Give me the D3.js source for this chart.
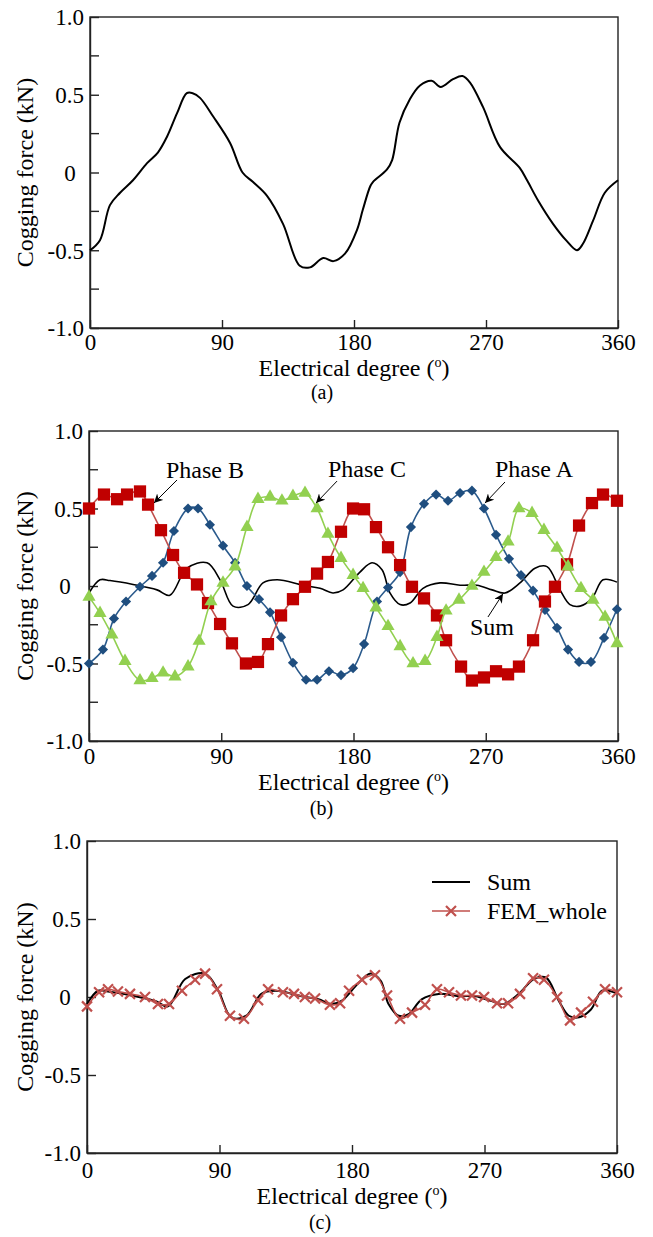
<!DOCTYPE html>
<html>
<head>
<meta charset="utf-8">
<script src="https://cdn.jsdelivr.net/npm/d3@7"></script>
<style>
body { margin: 0; background: #fff; }
svg text { font-family: "Liberation Serif", "Times New Roman", serif; fill: #000; }
</style>
</head>
<body>
<svg id="chart" width="653" height="1237"></svg>
<script>
//Axis ticks and labels shared by the three panels.
const xTicks = [0, 90, 180, 270, 360];
const xTickLabels = ["0", "90", "180", "270", "360"];
const yTicks = [-1, -0.5, 0, 0.5, 1];
const yTickLabels = ["-1.0", "-0.5", "0", "0.5", "1.0"];
const yMinorTicks = [-0.75, -0.25, 0.25, 0.75];

//(a) cogging force of one module.
const singleDeg = [0, 6.8, 13.6, 20.5, 29.3, 38.9, 46.4, 52.5, 59.3, 66, 70, 75, 84, 95.5, 104, 111, 120.7, 131.6, 143, 150, 159, 166, 174, 182, 186, 191, 193, 202.5, 206, 211, 218, 225, 233, 239, 247.5, 254, 259, 268, 279.5, 293, 298, 305.5, 315.7, 325, 332, 336, 343, 351, 360];
const singleVal = [-0.50, -0.435, -0.21, -0.13, -0.05, 0.06, 0.13, 0.23, 0.38, 0.51, 0.51, 0.48, 0.36, 0.19, 0.0, -0.06, -0.15, -0.33, -0.60, -0.61, -0.55, -0.57, -0.52, -0.37, -0.24, -0.09, -0.06, 0.02, 0.08, 0.32, 0.47, 0.56, 0.59, 0.55, 0.60, 0.62, 0.58, 0.42, 0.165, 0.03, -0.05, -0.18, -0.33, -0.44, -0.50, -0.46, -0.31, -0.13, -0.05];

//(b) the three phases and their sum.
const phaseADeg = [0, 9.5, 17, 25.2, 34.7, 42.9, 50.4, 57.8, 67.4, 74.2, 82.3, 91.2, 99.4, 107.5, 115.7, 123.2, 130.7, 138.8, 147.7, 155.2, 163.3, 171.5, 179.7, 187.2, 196, 203.5, 211.7, 219.1, 228, 236.2, 244.3, 252.5, 260.6, 268.8, 277, 285.8, 294, 302.2, 310.3, 318.5, 326, 333.5, 341.6, 350.5, 359.3];
const phaseAVal = [-0.50, -0.41, -0.21, -0.10, -0.005, 0.065, 0.15, 0.355, 0.50, 0.50, 0.395, 0.26, 0.15, 0.0, -0.085, -0.17, -0.33, -0.495, -0.605, -0.605, -0.55, -0.575, -0.53, -0.375, -0.10, -0.01, 0.09, 0.38, 0.53, 0.59, 0.55, 0.60, 0.615, 0.50, 0.33, 0.175, 0.07, -0.03, -0.155, -0.27, -0.41, -0.49, -0.49, -0.335, -0.15];

const phaseBDeg = [0, 10.2, 19.1, 25.9, 34.7, 40.2, 49, 57.2, 64.7, 73.5, 81, 89.2, 97.3, 106.8, 115, 121.8, 130.7, 138.8, 147, 155.2, 162.6, 171.5, 179.7, 187.2, 195.3, 203.5, 211.7, 219.8, 228, 236.8, 243, 253.2, 260.6, 268.8, 277, 285.2, 292.6, 302.2, 310.3, 317.1, 325.3, 333.5, 342.3, 349.8, 359.3];
const phaseBVal = [0.50, 0.59, 0.56, 0.59, 0.61, 0.525, 0.36, 0.20, 0.085, 0.01, -0.11, -0.245, -0.37, -0.50, -0.49, -0.375, -0.19, -0.085, -0.005, 0.08, 0.155, 0.35, 0.50, 0.495, 0.38, 0.25, 0.135, -0.005, -0.08, -0.19, -0.35, -0.52, -0.61, -0.59, -0.55, -0.57, -0.52, -0.35, -0.10, -0.005, 0.14, 0.39, 0.535, 0.59, 0.55];

const phaseCDeg = [0, 7.5, 15.6, 24.5, 34.7, 42.9, 50.4, 58.5, 67.4, 74.9, 83, 91.2, 99.4, 107.5, 115, 123.2, 131.3, 138.8, 147, 155.2, 162.6, 171.5, 179.7, 186.5, 195.3, 203.5, 211.7, 220.5, 228.7, 236.8, 243, 251.8, 260.6, 268.8, 277, 285.2, 292.6, 301.5, 309.6, 318.5, 326, 334.8, 343, 351.2, 359.3];
const phaseCVal = [-0.07, -0.175, -0.315, -0.485, -0.61, -0.595, -0.56, -0.585, -0.52, -0.355, -0.10, 0.02, 0.125, 0.38, 0.56, 0.575, 0.55, 0.58, 0.60, 0.50, 0.335, 0.18, 0.07, -0.015, -0.14, -0.26, -0.39, -0.50, -0.485, -0.33, -0.16, -0.09, 0.0, 0.09, 0.185, 0.285, 0.50, 0.47, 0.36, 0.245, 0.125, -0.015, -0.09, -0.20, -0.37];

const sumDeg = [0, 7.5, 14.3, 30, 46.3, 55, 66.7, 80.3, 89.2, 98, 108.2, 118.4, 128, 145.6, 157.2, 166, 172.9, 184.4, 192.6, 199.4, 204.8, 211.7, 218.5, 227.3, 238.9, 252.5, 264, 274.3, 283.1, 293.3, 303.5, 311.7, 320.5, 327.3, 334.2, 342.3, 349.8, 359.3];
const sumVal = [-0.045, 0.04, 0.035, 0.01, -0.025, -0.06, 0.115, 0.15, 0.04, -0.13, -0.12, 0.02, 0.04, 0.005, -0.015, -0.045, -0.025, 0.09, 0.15, 0.105, -0.045, -0.12, -0.11, -0.015, 0.02, 0.005, 0.005, -0.025, -0.045, 0.02, 0.115, 0.125, -0.025, -0.12, -0.13, -0.08, 0.04, 0.025];

//(c) FEM of the whole machine.
const femDeg = [0, 8.2, 14.3, 21, 29.2, 39.4, 48.2, 55.7, 64.5, 73.4, 80.2, 88.3, 97.1, 106.6, 116.2, 123, 133.1, 140.6, 148, 154.9, 165, 171.9, 178, 186.8, 195.6, 203.8, 212.6, 220.8, 229.6, 237.7, 245.9, 254, 261.5, 269.7, 278.5, 286, 294.1, 303, 310.4, 319.3, 328.1, 335.6, 343.7, 351.9, 360];
const femVal = [-0.06, 0.03, 0.05, 0.035, 0.02, 0.0, -0.045, -0.045, 0.04, 0.11, 0.15, 0.05, -0.12, -0.14, -0.02, 0.05, 0.03, 0.02, 0.0, -0.01, -0.05, -0.04, 0.04, 0.11, 0.14, 0.01, -0.14, -0.10, -0.05, 0.05, 0.03, 0.01, 0.01, 0.0, -0.04, -0.04, 0.02, 0.12, 0.11, 0.0, -0.15, -0.10, -0.03, 0.05, 0.03];

const svg = d3.select("#chart");
const FONT = 23;

const defs = svg.append("defs");
defs.append("marker")
    .attr("id", "arrow")
    .attr("viewBox", "0 0 10 10")
    .attr("refX", 10).attr("refY", 5)
    .attr("markerWidth", 9).attr("markerHeight", 9)
    .attr("markerUnits", "userSpaceOnUse")
    .attr("orient", "auto")
    .append("path")
    .attr("d", "M0,0 L10,5 L0,10 L3,5 z")
    .attr("fill", "#000");

//Draws frame, ticks, labels of one panel and returns its scales.
function makePanel(p) {
    const g = svg.append("g");
    const x = d3.scaleLinear().domain([0, 360]).range([p.left, p.right]);
    const y = d3.scaleLinear().domain([-1, 1]).range([p.bottom, p.top]);

    g.append("rect")
        .attr("x", p.left).attr("y", p.top)
        .attr("width", p.right - p.left).attr("height", p.bottom - p.top)
        .attr("fill", "none").attr("stroke", "#222").attr("stroke-width", 1.4);

    const yAxis = d3.axisLeft(y).tickValues(yTicks).tickSize(-9).tickSizeOuter(0).tickPadding(6)
        .tickFormat((d, i) => yTickLabels[i]);
    const ya = g.append("g").attr("transform", "translate(" + p.left + ",0)").call(yAxis);
    ya.attr("font-family", null).attr("font-size", null);
    ya.selectAll("line, path").attr("stroke", "#222").attr("stroke-width", 1.4);
    ya.selectAll("text").style("font-size", FONT + "px").attr("dy", "0.34em")
        .each(function(d) {
            if (d === 0) d3.select(this).attr("text-anchor", "middle").attr("x", -p.zeroOff);
        });

    if (p.minor) {
        g.selectAll(".minor").data(yMinorTicks).enter().append("line")
            .attr("x1", p.left).attr("x2", p.left + 9)
            .attr("y1", d => y(d)).attr("y2", d => y(d))
            .attr("stroke", "#222").attr("stroke-width", 1.4);
    }

    const xAxis = d3.axisBottom(x).tickValues(xTicks).tickSize(-8).tickSizeOuter(0)
        .tickFormat((d, i) => xTickLabels[i]);
    const xa = g.append("g").attr("transform", "translate(0," + p.bottom + ")").call(xAxis);
    xa.attr("font-family", null).attr("font-size", null);
    xa.selectAll("line, path").attr("stroke", "#222").attr("stroke-width", 1.4);
    xa.selectAll("text").style("font-size", FONT + "px").attr("y", p.tickLab).attr("dy", 0);

    const cx = (p.left + p.right) / 2;
    const xl = g.append("text").attr("x", cx).attr("y", p.bottom + p.axisLab)
        .attr("text-anchor", "middle").style("font-size", (FONT + 1) + "px");
    xl.append("tspan").text("Electrical degree (");
    xl.append("tspan").attr("dy", -9).style("font-size", "14px").text("o");
    xl.append("tspan").attr("dy", 9).text(")");

    const cy = (p.top + p.bottom) / 2;
    g.append("text")
        .attr("transform", "translate(33," + cy + ") rotate(-90)")
        .attr("text-anchor", "middle").style("font-size", (FONT + 1) + "px")
        .text("Cogging force (kN)");

    g.append("text").attr("x", cx - 32).attr("y", p.bottom + p.cap)
        .attr("text-anchor", "middle").style("font-size", "20px").text(p.caption);

    return {g: g, x: x, y: y};
}

function zipData(xs, ys) {
    return xs.map((d, i) => ({deg: d, val: ys[i]}));
}

function drawLine(panel, data, color, width) {
    const line = d3.line().x(d => panel.x(d.deg)).y(d => panel.y(d.val)).curve(d3.curveCatmullRom.alpha(0.5));
    panel.g.append("path").datum(data)
        .attr("d", line).attr("fill", "none")
        .attr("stroke", color).attr("stroke-width", width);
}

//Panel (a)
const pa = makePanel({left: 90, right: 618, top: 17, bottom: 328, minor: true, zeroOff: 20, tickLab: 22, axisLab: 48, cap: 71, caption: "(a)"});
drawLine(pa, zipData(singleDeg, singleVal), "#000", 2);

//Panel (b)
const pb = makePanel({left: 89, right: 618, top: 431, bottom: 741, minor: true, zeroOff: 24, tickLab: 23, axisLab: 49, cap: 74, caption: "(b)"});
drawLine(pb, zipData(sumDeg, sumVal), "#000", 1.6);

const phases = [
    {deg: phaseADeg, val: phaseAVal, line: "#2A5A8C", fill: "#1F4E7F", shape: "diamond"},
    {deg: phaseBDeg, val: phaseBVal, line: "#C0504D", fill: "#C00000", shape: "square"},
    {deg: phaseCDeg, val: phaseCVal, line: "#92D050", fill: "#92D050", shape: "triangle"}
];

phases.forEach(s => {
    const data = zipData(s.deg, s.val);
    drawLine(pb, data, s.line, 1.6);
    let sym;
    if (s.shape === "square") sym = d3.symbol().type(d3.symbolSquare).size(150);
    else if (s.shape === "diamond") sym = d3.symbol().type(d3.symbolSquare).size(52);
    else sym = d3.symbol().type(d3.symbolTriangle).size(75);
    pb.g.selectAll(null).data(data).enter().append("path")
        .attr("d", sym)
        .attr("transform", d => "translate(" + pb.x(d.deg) + "," + pb.y(d.val) + ")" + (s.shape === "diamond" ? " rotate(45)" : ""))
        .attr("fill", s.fill);
});

//Annotations in panel (b)
const notes = [
    {text: "Phase B", tx: 52.4, ty: 0.697, x1: 59.9, y1: 0.684, x2: 44.2, y2: 0.535},
    {text: "Phase C", tx: 162.6, ty: 0.703, x1: 168.8, y1: 0.677, x2: 154.5, y2: 0.535},
    {text: "Phase A", tx: 276.3, ty: 0.703, x1: 283.1, y1: 0.671, x2: 269.5, y2: 0.535},
    {text: "Sum", tx: 259.3, ty: -0.316, x1: 271.5, y1: -0.2, x2: 281.7, y2: -0.05}
];
notes.forEach(n => {
    pb.g.append("line")
        .attr("x1", pb.x(n.x1)).attr("y1", pb.y(n.y1))
        .attr("x2", pb.x(n.x2)).attr("y2", pb.y(n.y2))
        .attr("stroke", "#000").attr("stroke-width", 1)
        .attr("marker-end", "url(#arrow)");
    pb.g.append("text").attr("x", pb.x(n.tx)).attr("y", pb.y(n.ty))
        .style("font-size", (FONT + 1) + "px").text(n.text);
});

//Panel (c)
const pc = makePanel({left: 87, right: 617, top: 841, bottom: 1153, minor: false, zeroOff: 22, tickLab: 25, axisLab: 51, cap: 76, caption: "(c)"});
drawLine(pc, zipData(sumDeg, sumVal), "#000", 2);
const femData = zipData(femDeg, femVal);
drawLine(pc, femData, "#C0504D", 1.6);

function cross(g, cx, cy, r) {
    g.append("path")
        .attr("d", "M" + (cx - r) + "," + (cy - r) + "L" + (cx + r) + "," + (cy + r) + "M" + (cx - r) + "," + (cy + r) + "L" + (cx + r) + "," + (cy - r))
        .attr("stroke", "#C0504D").attr("stroke-width", 2.2).attr("fill", "none");
}
femData.forEach(d => cross(pc.g, pc.x(d.deg), pc.y(d.val), 5));

//Legend
const lg = pc.g.append("g").attr("transform", "translate(432,882)");
lg.append("line").attr("x1", 0).attr("x2", 38).attr("y1", 0).attr("y2", 0).attr("stroke", "#000").attr("stroke-width", 2);
lg.append("text").attr("x", 55).attr("y", 8).style("font-size", (FONT + 1) + "px").text("Sum");
lg.append("line").attr("x1", 0).attr("x2", 38).attr("y1", 29).attr("y2", 29).attr("stroke", "#C0504D").attr("stroke-width", 1.6);
cross(lg, 19, 29, 5);
lg.append("text").attr("x", 55).attr("y", 37).style("font-size", (FONT + 1) + "px").text("FEM_whole");
</script>
</body>
</html>
